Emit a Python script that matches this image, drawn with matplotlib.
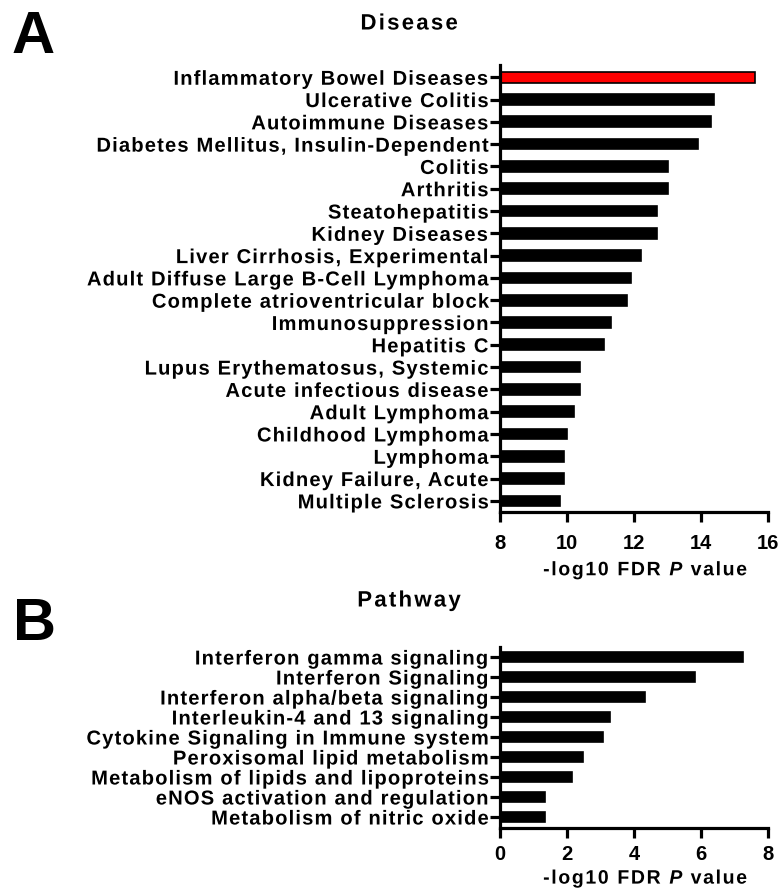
import matplotlib
matplotlib.use("Agg")
import numpy as np
import matplotlib.pyplot as plt
from matplotlib.patheffects import AbstractPathEffect
from matplotlib.path import Path
from matplotlib.textpath import text_to_path
from matplotlib.font_manager import FontProperties

plt.rcParams['font.family'] = ['Liberation Sans', 'DejaVu Sans']
plt.rcParams['font.weight'] = 'bold'

disease_terms = [
    "Inflammatory Bowel Diseases", "Ulcerative Colitis", "Autoimmune Diseases",
    "Diabetes Mellitus, Insulin-Dependent", "Colitis", "Arthritis", "Steatohepatitis",
    "Kidney Diseases", "Liver Cirrhosis, Experimental", "Adult Diffuse Large B-Cell Lymphoma",
    "Complete atrioventricular block", "Immunosuppression", "Hepatitis C",
    "Lupus Erythematosus, Systemic", "Acute infectious disease", "Adult Lymphoma",
    "Childhood Lymphoma", "Lymphoma", "Kidney Failure, Acute", "Multiple Sclerosis",
]
disease_values = [15.6, 14.4, 14.3, 13.9, 13.0, 13.0, 12.7, 12.7, 12.2, 11.9,
                  11.8, 11.3, 11.1, 10.4, 10.4, 10.2, 10.0, 9.9, 9.9, 9.8]
disease_colors = ["#FF0000"] + ["#000000"] * 19

pathway_terms = [
    "Interferon gamma signaling", "Interferon Signaling", "Interferon alpha/beta signaling",
    "Interleukin-4 and 13 signaling", "Cytokine Signaling in Immune system",
    "Peroxisomal lipid metabolism", "Metabolism of lipids and lipoproteins",
    "eNOS activation and regulation", "Metabolism of nitric oxide",
]
pathway_values = [7.26, 5.82, 4.34, 3.29, 3.07, 2.49, 2.15, 1.33, 1.33]

disease_xticks = [8, 10, 12, 14, 16]
pathway_xticks = [0, 2, 4, 6, 8]
xlabel_text = "-log10 FDR P value"
xlabel_italic_index = 11  # the "P"


class Tracked(AbstractPathEffect):
    """Draw a text string with extra letter spacing (tracking, in em)."""

    def __init__(self, s, tracking, ha='right', italic_idx=()):
        super().__init__()
        self.s = s
        self.tracking = tracking
        self.ha = ha
        self.italic_idx = set(italic_idx)

    def _build(self):
        prop = FontProperties(family=['Liberation Sans'], weight='bold')
        fs = text_to_path.FONT_SCALE
        extra = self.tracking * fs
        font = text_to_path._get_font(prop)
        glyph_info, glyph_map, rects = text_to_path.get_glyphs_with_font(font, self.s)
        itfont = None
        verts, codes = [], []
        for i, (gid, xpos, ypos, scale) in enumerate(glyph_info):
            if i in self.italic_idx and i < len(self.s):
                if itfont is None:
                    ip = prop.copy()
                    ip.set_style('italic')
                    itfont = text_to_path._get_font(ip)
                gi, gm, _ = text_to_path.get_glyphs_with_font(itfont, self.s[i])
                v, c = gm[gi[0][0]]
                sc = gi[0][3]
            else:
                v, c = glyph_map[gid]
                sc = scale
            if len(c) == 0:
                continue
            verts.extend(np.asarray(v) * sc + [xpos + i * extra, ypos])
            codes.extend(c)
        if not verts:
            return None
        return Path(np.array(verts), np.array(codes))

    def draw_path(self, renderer, gc, tpath, affine, rgbFace=None):
        npath = self._build()
        if npath is None or len(tpath.vertices) == 0:
            renderer.draw_path(gc, tpath, affine, rgbFace)
            return
        oe = tpath.get_extents()
        ne = npath.get_extents()
        if self.ha == 'right':
            dx = oe.x1 - ne.x1
        elif self.ha == 'center':
            dx = (oe.x0 + oe.x1) / 2 - (ne.x0 + ne.x1) / 2
        else:
            dx = oe.x0 - ne.x0
        shifted = Path(npath.vertices + [dx, 0], npath.codes)
        renderer.draw_path(gc, shifted, affine, rgbFace)


W, H = 782, 894
fig = plt.figure(figsize=(W / 100, H / 100), dpi=100)


def frac_axes(left, top, right, bottom):
    return fig.add_axes([left / W, 1 - bottom / H, (right - left) / W, (bottom - top) / H])


ax1 = frac_axes(500, 65, 768, 512)
ax2 = frac_axes(500, 647, 768, 828)


def style(ax, xticks, terms, xpad, lpad):
    for s in ['top', 'right']:
        ax.spines[s].set_visible(False)
    for s in ['left', 'bottom']:
        ax.spines[s].set_linewidth(2.3)
    ax.tick_params(axis='both', length=7, width=2.3, direction='out')
    ax.tick_params(axis='y', labelsize=14.5, pad=1.5)
    ax.tick_params(axis='x', labelsize=14.5, pad=xpad)
    ax.set_xticks(xticks)
    ax.set_xlim(xticks[0], xticks[-1])
    ax.set_yticks(range(len(terms)))
    ax.set_yticklabels(terms)
    for lab in ax.get_yticklabels():
        lab.set_fontweight('bold')
        lab.set_path_effects([Tracked(lab.get_text(), 0.058, 'right')])
    for lab in ax.get_xticklabels():
        lab.set_fontweight('bold')
    xl = ax.set_xlabel(xlabel_text, fontsize=14, fontweight='bold', labelpad=lpad)
    xl.set_x(0.5 + 11 / 268)
    xl.set_path_effects([Tracked(xlabel_text, 0.085, 'center', italic_idx=[xlabel_italic_index])])


y1 = np.arange(len(disease_terms))
ax1.barh(y1, [v - disease_xticks[0] for v in disease_values], left=disease_xticks[0],
         height=0.48, color=disease_colors, edgecolor='black', linewidth=1.2)
ax1.set_ylim(len(disease_terms) - 0.5, -0.55)
style(ax1, disease_xticks, disease_terms, xpad=8.5, lpad=7)

y2 = np.arange(len(pathway_terms))
ax2.barh(y2, pathway_values, height=0.52, color='black', edgecolor='black', linewidth=1.2)
ax2.set_ylim(len(pathway_terms) - 0.45, -0.5)
style(ax2, pathway_xticks, pathway_terms, xpad=5, lpad=5)

t1 = fig.text(409 / W, 1 - 24 / H, "Disease", ha='center', va='center', fontsize=16, fontweight='bold')
t1.set_path_effects([Tracked("Disease", 0.1, 'center')])
t2 = fig.text(409 / W, 1 - 601 / H, "Pathway", ha='center', va='center', fontsize=16, fontweight='bold')
t2.set_path_effects([Tracked("Pathway", 0.1, 'center')])
fig.text(12 / W, 1 - 53 / H, "A", ha='left', va='baseline', fontsize=43, fontweight='bold')
fig.text(13 / W, 1 - 640 / H, "B", ha='left', va='baseline', fontsize=43, fontweight='bold')

fig.savefig("out.png", dpi=100)
